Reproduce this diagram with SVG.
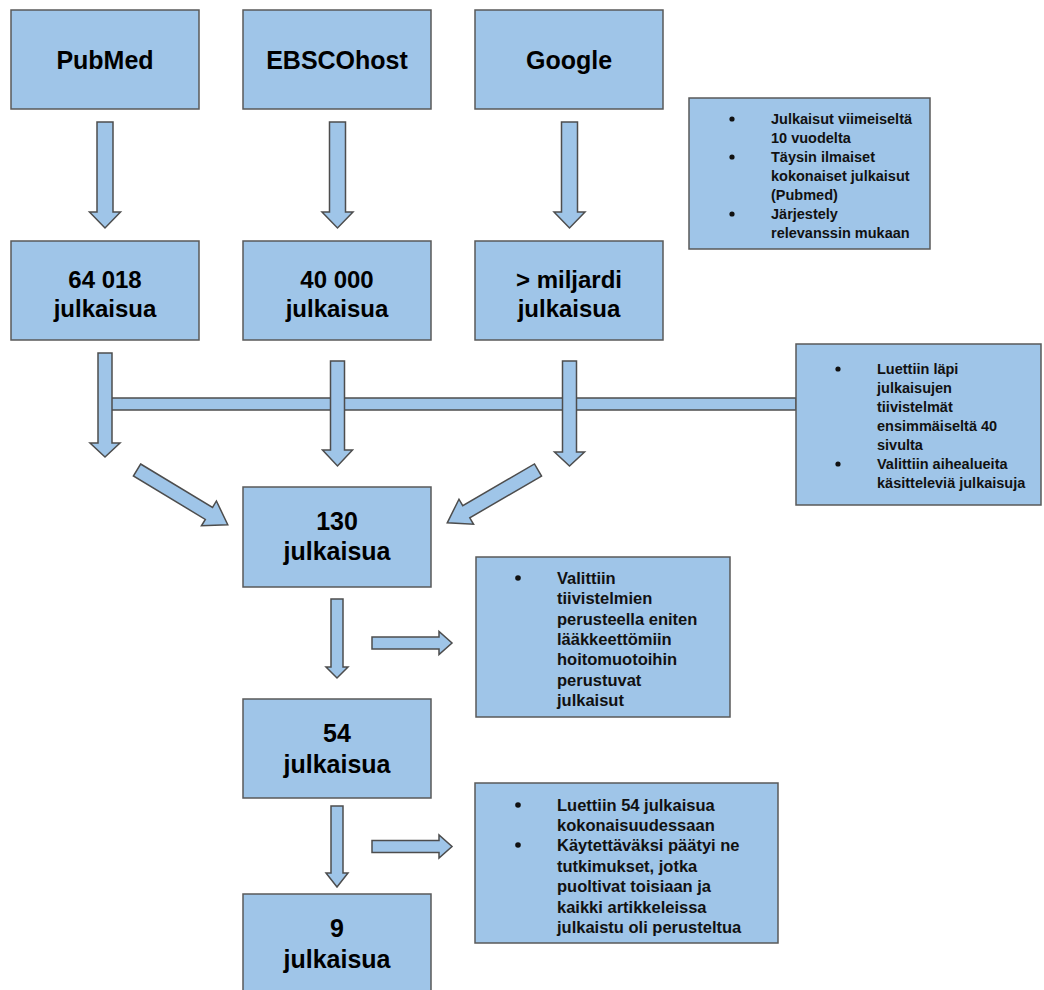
<svg xmlns="http://www.w3.org/2000/svg" width="1044" height="990" viewBox="0 0 1044 990">
<style>
.box{fill:#9fc5e8;stroke:#595959;stroke-width:1.5}
.arr{fill:#9fc5e8;stroke:#4d4d4d;stroke-width:1.5;stroke-linejoin:miter}
.t1{font-family:"Liberation Sans",Arial,sans-serif;font-weight:bold;font-size:25px;fill:#000;text-anchor:middle}
.t2{font-family:"Liberation Sans",Arial,sans-serif;font-weight:bold;font-size:24px;fill:#000;text-anchor:middle}
.t3{font-family:"Liberation Sans",Arial,sans-serif;font-weight:bold;font-size:25px;fill:#000;text-anchor:middle}
.ns{font-family:"Liberation Sans",Arial,sans-serif;font-weight:bold;font-size:14.5px;fill:#111}
.nl{font-family:"Liberation Sans",Arial,sans-serif;font-weight:bold;font-size:16.5px;fill:#111}
.dot{fill:#111}
</style>
<rect width="1044" height="990" fill="#ffffff"/>

<g id="connectors">
  <rect class="arr" x="105" y="398" width="691" height="12"/>
  <path class="arr" d="M97,122 H113 V212 H120.5 L105,228 L89.5,212 H97 Z"/>
  <path class="arr" d="M329.5,122 H345.5 V212 H353 L337.5,228 L322,212 H329.5 Z"/>
  <path class="arr" d="M561.5,122 H577.5 V212 H585 L569.5,228 L554,212 H561.5 Z"/>
  <path class="arr" d="M98,353 H112 V443 H120 L105,457 L90,443 H98 Z"/>
  <path class="arr" d="M330.5,361 H344.5 V450 H352.5 L337.5,466 L322.5,450 H330.5 Z"/>
  <path class="arr" d="M562.5,361 H576.5 V452 H584.5 L569.5,466 L554.5,452 H562.5 Z"/>
  <path class="arr" transform="translate(137,470) rotate(31.1)" d="M0,-7 H84 V-14.5 L106,0 L84,14.5 V7 H0 Z"/>
  <path class="arr" transform="translate(538,470) rotate(149.8)" d="M0,-7 H83 V-14.5 L105,0 L83,14.5 V7 H0 Z"/>
  <path class="arr" d="M331,599 H343 V667 H348 L337,678 L326,667 H331 Z"/>
  <path class="arr" d="M331,806 H343 V873 H348 L337,887 L326,873 H331 Z"/>
  <path class="arr" d="M372,637 H439 V631.5 L452,643 L439,654.5 V649 H372 Z"/>
  <path class="arr" d="M372,840.5 H439 V835 L452,846.5 L439,858 V852.5 H372 Z"/>
</g>

<g id="pubmed"><rect class="box" x="11" y="10" width="188" height="99"/><text class="t1" x="105" y="69">PubMed</text></g>
<g id="ebsco"><rect class="box" x="243" y="10" width="188" height="99"/><text class="t1" x="337" y="69">EBSCOhost</text></g>
<g id="google"><rect class="box" x="475" y="10" width="188" height="99"/><text class="t1" x="569" y="69">Google</text></g>

<g id="note1">
  <rect class="box" x="689" y="98" width="241" height="151"/>
  <circle class="dot" cx="732" cy="119" r="2.6"/>
  <circle class="dot" cx="732" cy="157" r="2.6"/>
  <circle class="dot" cx="732" cy="214" r="2.6"/>
  <text class="ns" x="771" y="124">Julkaisut viimeiseltä</text>
  <text class="ns" x="771" y="143">10 vuodelta</text>
  <text class="ns" x="771" y="162">Täysin ilmaiset</text>
  <text class="ns" x="771" y="181">kokonaiset julkaisut</text>
  <text class="ns" x="771" y="200">(Pubmed)</text>
  <text class="ns" x="771" y="219">Järjestely</text>
  <text class="ns" x="771" y="238">relevanssin mukaan</text>
</g>

<g id="res-pubmed"><rect class="box" x="11" y="241" width="188" height="99"/><text class="t2" x="105" y="288">64 018</text><text class="t2" x="105" y="317">julkaisua</text></g>
<g id="res-ebsco"><rect class="box" x="243" y="241" width="188" height="99"/><text class="t2" x="337" y="288">40 000</text><text class="t2" x="337" y="317">julkaisua</text></g>
<g id="res-google"><rect class="box" x="475" y="241" width="188" height="99"/><text class="t2" x="569" y="288">&gt; miljardi</text><text class="t2" x="569" y="317">julkaisua</text></g>

<g id="note2">
  <rect class="box" x="796" y="344" width="245" height="161"/>
  <circle class="dot" cx="838" cy="369" r="2.6"/>
  <circle class="dot" cx="838" cy="464" r="2.6"/>
  <text class="ns" x="877" y="374">Luettiin läpi</text>
  <text class="ns" x="877" y="393">julkaisujen</text>
  <text class="ns" x="877" y="412">tiivistelmät</text>
  <text class="ns" x="877" y="431">ensimmäiseltä 40</text>
  <text class="ns" x="877" y="450">sivulta</text>
  <text class="ns" x="877" y="469">Valittiin aihealueita</text>
  <text class="ns" x="877" y="488">käsitteleviä julkaisuja</text>
</g>

<g id="n130"><rect class="box" x="243" y="487" width="188" height="100"/><text class="t3" x="337" y="530">130</text><text class="t3" x="337" y="560">julkaisua</text></g>

<g id="note3">
  <rect class="box" x="476" y="557" width="254" height="160"/>
  <circle class="dot" cx="518" cy="578" r="2.8"/>
  <text class="nl" x="557" y="584">Valittiin</text>
  <text class="nl" x="557" y="604">tiivistelmien</text>
  <text class="nl" x="557" y="625">perusteella eniten</text>
  <text class="nl" x="557" y="645">lääkkeettömiin</text>
  <text class="nl" x="557" y="665">hoitomuotoihin</text>
  <text class="nl" x="557" y="686">perustuvat</text>
  <text class="nl" x="557" y="706">julkaisut</text>
</g>

<g id="n54"><rect class="box" x="243" y="699" width="188" height="99"/><text class="t3" x="337" y="742">54</text><text class="t3" x="337" y="773">julkaisua</text></g>

<g id="note4">
  <rect class="box" x="475" y="783" width="303" height="160"/>
  <circle class="dot" cx="518" cy="805" r="2.8"/>
  <circle class="dot" cx="518" cy="845" r="2.8"/>
  <text class="nl" x="557" y="811">Luettiin 54 julkaisua</text>
  <text class="nl" x="557" y="831">kokonaisuudessaan</text>
  <text class="nl" x="557" y="851">Käytettäväksi päätyi ne</text>
  <text class="nl" x="557" y="872">tutkimukset, jotka</text>
  <text class="nl" x="557" y="892">puoltivat toisiaan ja</text>
  <text class="nl" x="557" y="913">kaikki artikkeleissa</text>
  <text class="nl" x="557" y="933">julkaistu oli perusteltua</text>
</g>

<g id="n9"><rect class="box" x="243" y="894" width="188" height="110"/><text class="t3" x="337" y="937">9</text><text class="t3" x="337" y="968">julkaisua</text></g>
</svg>
